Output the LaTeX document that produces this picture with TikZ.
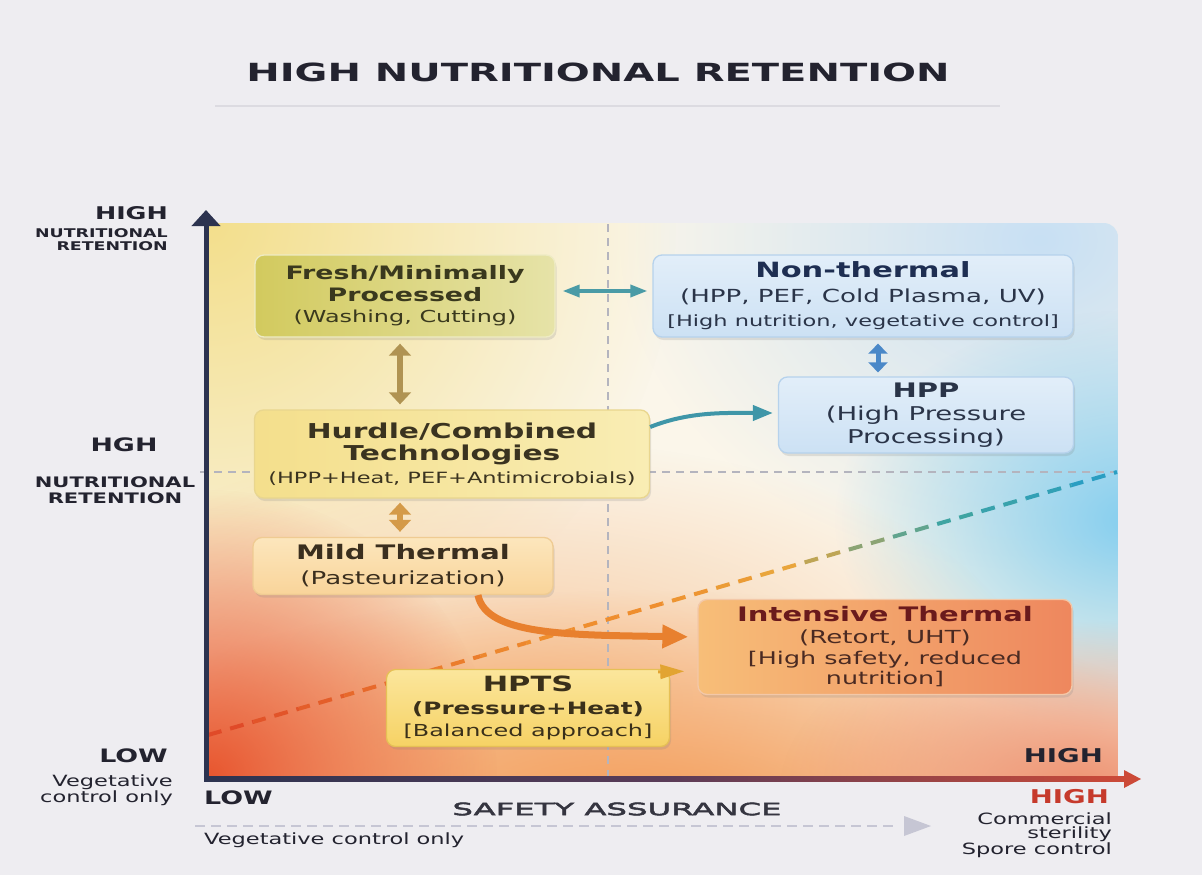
\documentclass[tikz,border=0pt]{standalone}
\usepackage{fontspec}
\setmainfont{DejaVu Sans}[FakeStretch=1.45]
\newfontfamily\titlefont{DejaVu Sans}[FakeStretch=1.6]
\newfontfamily\medfont{DejaVu Sans}[FakeStretch=1.9, FakeBold=3]
\usetikzlibrary{arrows.meta,shadows,fadings,calc}

\newcommand\fsz[2]{\fontsize{#1}{#2}\selectfont}

% page and axes
\definecolor{bgc}{HTML}{EEEDF1}
\definecolor{ink}{HTML}{23232F}
\definecolor{axisdark}{HTML}{2C3350}
\definecolor{axismid}{HTML}{5A3C58}
\definecolor{axisred}{HTML}{CC4A38}
\definecolor{gridgray}{HTML}{B4B4BE}
\definecolor{rulegray}{HTML}{DCDBE1}
\definecolor{notegray}{HTML}{C6C6D4}
\definecolor{highred}{HTML}{C63A2C}
% plot area tones
\definecolor{pcream}{HTML}{FBF6EA}
\definecolor{pyellow}{HTML}{F3DF8C}
\definecolor{pblue}{HTML}{84CEEF}
\definecolor{pblue2}{HTML}{C8E0F4}
\definecolor{pred}{HTML}{E8552E}
\definecolor{porange}{HTML}{F39A55}
\definecolor{ppeach}{HTML}{F8C9A0}
\definecolor{psalmon}{HTML}{EE9272}
% trade-off line
\definecolor{dA}{HTML}{E04A28}
\definecolor{dB}{HTML}{EF8E2E}
\definecolor{dC}{HTML}{E9A53C}
\definecolor{dD}{HTML}{3FA4A2}
\definecolor{dE}{HTML}{2A9EC2}
% boxes
\definecolor{freshL}{HTML}{D2CA5E}
\definecolor{freshR}{HTML}{E6E3A8}
\definecolor{freshln}{HTML}{EEEBC4}
\definecolor{freshtx}{HTML}{3A391E}
\definecolor{ntTop}{HTML}{E2EEF9}
\definecolor{ntBot}{HTML}{CCE1F4}
\definecolor{ntln}{HTML}{B6D2EC}
\definecolor{ntttl}{HTML}{1E2E52}
\definecolor{nttx}{HTML}{2A3448}
\definecolor{hurL}{HTML}{F4DF8C}
\definecolor{hurR}{HTML}{F9EDB4}
\definecolor{hurln}{HTML}{E9D68E}
\definecolor{hurtx}{HTML}{3A3320}
\definecolor{mildTop}{HTML}{FCE6BC}
\definecolor{mildBot}{HTML}{F9D49A}
\definecolor{mildln}{HTML}{EFCB92}
\definecolor{mildtx}{HTML}{3A2E1E}
\definecolor{intL}{HTML}{F7BE78}
\definecolor{intR}{HTML}{EE875E}
\definecolor{intln}{HTML}{F3C8A8}
\definecolor{intttl}{HTML}{6A1A1C}
\definecolor{inttx}{HTML}{4A2A22}
\definecolor{hptsTop}{HTML}{FBE69C}
\definecolor{hptsBot}{HTML}{F6D264}
\definecolor{hptsln}{HTML}{E6C055}
\definecolor{hptstx}{HTML}{3A301A}
% connectors
\definecolor{tealc}{HTML}{4A9BA6}
\definecolor{goldc}{HTML}{B09352}
\definecolor{gold2}{HTML}{D49A48}
\definecolor{bluec}{HTML}{4A88C8}
\definecolor{seac}{HTML}{3F96A8}
\definecolor{orangec}{HTML}{E8802E}
\definecolor{hptsarr}{HTML}{E2A432}

\tikzfading[name=glow, inner color=transparent!0, outer color=transparent!100]

\begin{document}
\begin{tikzpicture}[x=1pt,y=-1pt,
  box/.style={rounded corners=9pt, line width=1.3pt, align=center, inner sep=0pt,
    drop shadow={shadow xshift=1.5pt, shadow yshift=-3pt, opacity=0.2}},
  gridline/.style={gridgray, line width=1.2pt, dash pattern=on 8pt off 6pt},
  twoway/.style={line width=#1, {Triangle[width=#1*3.6, length=12pt]}-{Triangle[width=#1*3.6, length=12pt]}},
  axislabel/.style={text=ink, inner sep=0pt}
]
\useasboundingbox (0,0) rectangle (1202,875);
\fill[bgc] (0,0) rectangle (1202,875);

% title
\node[text=ink, inner sep=0pt] (title) at (598,72) {\titlefont\fsz{25}{30}\bfseries HIGH NUTRITIONAL RETENTION};
\draw[rulegray, line width=1.5pt] (215,106) -- (1000,106);

% plot area with soft colour glows
\begin{scope}
  \clip (208,223) rectangle (1118,779);
  \clip[rounded corners=14pt] (150,223) rectangle (1118,840);
  \fill[pcream] (208,223) rectangle (1118,779);
  \fill[pblue2, path fading=glow] (1040,240) ellipse (420 and 330);
  \fill[pblue, path fading=glow] (1135,520) ellipse (300 and 210);
  \fill[pyellow, path fading=glow] (208,223) circle (470);
  \fill[ppeach, path fading=glow] (520,700) ellipse (520 and 260);
  \fill[porange, path fading=glow] (640,820) ellipse (620 and 230);
  \fill[psalmon, path fading=glow] (1080,790) ellipse (300 and 170);
  \fill[pred, path fading=glow] (208,779) circle (290);
\end{scope}

% quadrant guides
\coordinate (gl) at (200,472);
\coordinate (gr) at (1117,472);
\coordinate (gt) at (608,224);
\coordinate (gb) at (608,777);
\draw[gridline] (gl) -- (gr);
\draw[gridline] (gt) -- (gb);

% trade-off line, coloured piece by piece
\coordinate (dl0) at (208,735);
\coordinate (dl1) at (1117,472);
\foreach \i/\c in {0/dA, 1/dA!85!dB, 2/dA!70!dB, 3/dA!55!dB, 4/dA!40!dB, 5/dA!25!dB,
                   6/dA!10!dB, 7/dB, 8/dB, 9/dB, 10/dB!70!dC, 11/dB!40!dC, 12/dC,
                   13/dC!75!dD, 14/dC!45!dD, 15/dD!80!dC, 16/dD, 17/dD!70!dE, 18/dD!40!dE, 19/dE} {
  \pgfmathsetmacro\ta{\i/20}
  \pgfmathsetmacro\tb{(\i+1)/20}
  \pgfmathsetmacro\ph{\i*47.31}
  \draw[line width=4pt, dash pattern=on 14pt off 9pt, dash phase=\ph pt, color=\c]
    ($(dl0)!\ta!(dl1)$) -- ($(dl0)!\tb!(dl1)$);
}

% axes
\coordinate (origin) at (206,779);
\coordinate (ytip) at (206,210);
\draw[axisdark, line width=5pt, -{Triangle[width=28pt, length=16pt]}] (origin) -- (ytip);
\shade[left color=axisdark, right color=axisred, middle color=axismid] (204,776.5) rectangle (1126,781.5);
\fill[axisred] (1124,770) -- (1141,779) -- (1124,788) -- cycle;

% axis labels
\node[axislabel, anchor=east] (yhigh) at (168,213) {\fsz{17.5}{20}\bfseries HIGH};
\node[axislabel, anchor=north east, align=right, font=\fsz{12}{13.5}\bfseries] (yhighsub) at (168,228) {NUTRITIONAL\\RETENTION};
\node[axislabel] (ymid) at (124,445) {\fsz{18.5}{20}\bfseries HGH};
\node[axislabel, align=center, font=\fsz{14.5}{16}\bfseries] (ymidsub) at (115,490) {NUTRITIONAL\\RETENTION};
\node[axislabel, anchor=east] (ylow) at (168,756) {\fsz{18.5}{20}\bfseries LOW};
\node[axislabel, anchor=north east, align=right, font=\fsz{15.5}{15.5}] (ylowsub) at (173,775) {Vegetative\\control only};
\node[axislabel, anchor=west] (xlow) at (204,798) {\fsz{18.5}{20}\bfseries LOW};
\node[axislabel, anchor=east] (xhigh) at (1103,756) {\fsz{19}{20}\bfseries HIGH};
\node[axislabel, anchor=east, text=highred] (xhighred) at (1109,797) {\fsz{19}{20}\bfseries HIGH};
\node[axislabel, text=ink!92] (xtitle) at (617,809) {\medfont\fsz{17}{20}SAFETY ASSURANCE};
\node[axislabel, anchor=west] (xlowsub) at (204,840) {\fsz{15.5}{17}Vegetative control only};
\node[axislabel, anchor=north east, align=right, font=\fsz{15.5}{13.5}] (xhighsub) at (1112,813) {Commercial\\sterility\\Spore control};

% range note under the safety axis
\coordinate (nl) at (195,826);
\coordinate (nr) at (897,826);
\draw[notegray, line width=1.3pt, dash pattern=on 10pt off 6pt] (nl) -- (nr);
\fill[notegray] (904,816) -- (931,826) -- (904,836) -- cycle;

% process boxes
\node[box, draw=freshln, left color=freshL, right color=freshR, text=freshtx,
      minimum width=300pt, minimum height=82pt, font=\fsz{18.5}{21.5}] (fresh) at (405,296)
  {\bfseries Fresh/Minimally\\\bfseries Processed\\\fsz{16.5}{21.5}(Washing, Cutting)};
\node[box, draw=ntln, top color=ntTop, bottom color=ntBot, text=nttx,
      minimum width=420pt, minimum height=82pt, font=\fsz{18}{24.5}] (nonth) at (863,296)
  {\fsz{21}{24.5}\bfseries\color{ntttl}Non-thermal\\(HPP, PEF, Cold Plasma, UV)\\\fsz{15.5}{24.5}[High nutrition, vegetative control]};
\node[box, draw=ntln, top color=ntTop, bottom color=ntBot, text=nttx,
      minimum width=295pt, minimum height=76pt, font=\fsz{19}{23}] (hpp) at (926,415)
  {\fsz{20}{23}\bfseries HPP\\(High Pressure\\Processing)};
\node[box, draw=hurln, left color=hurL, right color=hurR, text=hurtx,
      minimum width=395pt, minimum height=88pt, font=\fsz{20.5}{22.5}] (hurdle) at (452,454)
  {\bfseries Hurdle/Combined\\\bfseries Technologies\\\fsz{15.5}{22.5}(HPP+Heat, PEF+Antimicrobials)};
\node[box, draw=mildln, top color=mildTop, bottom color=mildBot, text=mildtx,
      minimum width=300pt, minimum height=57pt, font=\fsz{18}{25}] (mild) at (403,566)
  {\fsz{20}{25}\bfseries Mild Thermal\\(Pasteurization)};
\node[box, draw=intln, left color=intL, right color=intR, text=inttx,
      minimum width=374pt, minimum height=95pt, font=\fsz{17.5}{21.5}] (intens) at (885,647)
  {\fsz{20}{21.5}\bfseries\color{intttl}Intensive Thermal\\\fsz{18}{21.5}(Retort, UHT)\\{}[High safety, reduced\\[-1.5pt]nutrition]};
\node[box, draw=hptsln, top color=hptsTop, bottom color=hptsBot, text=hptstx,
      minimum width=283pt, minimum height=77pt, font=\fsz{16.5}{23}] (hpts) at (528,708)
  {\fsz{21}{23}\bfseries HPTS\\\fsz{17}{23}\bfseries (Pressure+Heat)\\[-1pt]{}[Balanced approach]};

% connectors
\draw[tealc, line width=3.5pt, {Triangle[width=12pt, length=17pt]}-{Triangle[width=12pt, length=17pt]},
      shorten <=7pt, shorten >=5pt]
  ([yshift=5pt]fresh.east) -- ([yshift=5pt]fresh.east -| nonth.west);
\draw[goldc, twoway=6pt, shorten <=6pt, shorten >=5pt]
  ([xshift=-5pt]fresh.south) -- ([xshift=-5pt]fresh.south |- hurdle.north);
\draw[gold2, twoway=6pt, shorten <=4pt, shorten >=5pt]
  ([xshift=-52pt]hurdle.south) -- ([xshift=-52pt]hurdle.south |- mild.north);
\draw[bluec, line width=5pt, {Triangle[width=19pt, length=10pt]}-{Triangle[width=19pt, length=10pt]},
      shorten <=6pt, shorten >=4pt]
  ([xshift=15pt]nonth.south) -- ([xshift=15pt]nonth.south |- hpp.north);
\draw[seac, line width=4pt, -{Triangle[width=15pt, length=20pt]}, shorten >=5pt]
  ([yshift=27pt]hurdle.east) .. controls +(40,-16) and +(-50,0) .. ([yshift=2pt]hpp.west);
\draw[orangec, line width=7pt, -{Triangle[width=22pt, length=26pt]}, shorten >=9pt]
  ([xshift=75pt]mild.south) .. controls +(8,40) and +(-130,-2) .. ([yshift=10pt]intens.west);
\draw[hptsarr, line width=3pt, -{Triangle[width=14pt, length=24pt]}, shorten >=13pt]
  ([xshift=-12pt,yshift=-3pt]hpts.north east) -- ([yshift=-24pt]intens.west);
\end{tikzpicture}
\end{document}
